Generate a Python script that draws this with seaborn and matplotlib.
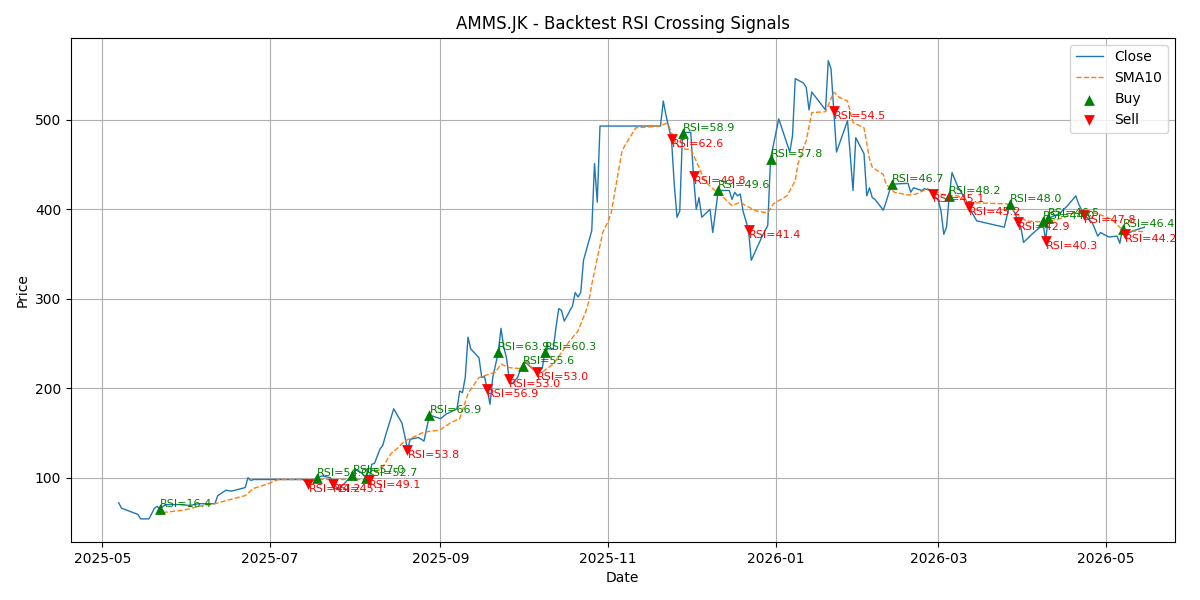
"""
Backtest chart for AMMS.JK: close price, 10-day SMA and the
RSI crossing buy / sell signals with their RSI values.
"""

import pandas as pd
import seaborn as sns
import matplotlib.pyplot as plt

close_dates = [
    "2025-05-07", "2025-05-08", "2025-05-14", "2025-05-15", "2025-05-18",
    "2025-05-20", "2025-05-21", "2025-05-22", "2025-05-24", "2025-05-29",
    "2025-06-02", "2025-06-05", "2025-06-11", "2025-06-12", "2025-06-15",
    "2025-06-17", "2025-06-22", "2025-06-23", "2025-06-24", "2025-06-25",
    "2025-07-13", "2025-07-15", "2025-07-18", "2025-07-20", "2025-07-23",
    "2025-07-24", "2025-07-26", "2025-07-31", "2025-08-01", "2025-08-03",
    "2025-08-05", "2025-08-06", "2025-08-07", "2025-08-08", "2025-08-10",
    "2025-08-11", "2025-08-12", "2025-08-15", "2025-08-18", "2025-08-19",
    "2025-08-20", "2025-08-21", "2025-08-24", "2025-08-26", "2025-08-28",
    "2025-09-01", "2025-09-03", "2025-09-07", "2025-09-08", "2025-09-09",
    "2025-09-10", "2025-09-11", "2025-09-12", "2025-09-15", "2025-09-16",
    "2025-09-17", "2025-09-18", "2025-09-19", "2025-09-20", "2025-09-22",
    "2025-09-23", "2025-09-24", "2025-09-25", "2025-09-26", "2025-09-27",
    "2025-09-29", "2025-09-30", "2025-10-01", "2025-10-02", "2025-10-04",
    "2025-10-06", "2025-10-08", "2025-10-09", "2025-10-10", "2025-10-12",
    "2025-10-13", "2025-10-14", "2025-10-15", "2025-10-16", "2025-10-19",
    "2025-10-20", "2025-10-21", "2025-10-22", "2025-10-23", "2025-10-26",
    "2025-10-27", "2025-10-28", "2025-10-29", "2025-11-20", "2025-11-21",
    "2025-11-22", "2025-11-24", "2025-11-25", "2025-11-26", "2025-11-27",
    "2025-11-28", "2025-11-30", "2025-12-01", "2025-12-02", "2025-12-03",
    "2025-12-04", "2025-12-05", "2025-12-08", "2025-12-09", "2025-12-11",
    "2025-12-13", "2025-12-15", "2025-12-16", "2025-12-17", "2025-12-18",
    "2025-12-19", "2025-12-20", "2025-12-22", "2025-12-23", "2025-12-27",
    "2025-12-29", "2025-12-30", "2026-01-02", "2026-01-06", "2026-01-07",
    "2026-01-08", "2026-01-11", "2026-01-12", "2026-01-13", "2026-01-14",
    "2026-01-19", "2026-01-20", "2026-01-21", "2026-01-22", "2026-01-23",
    "2026-01-27", "2026-01-29", "2026-01-30", "2026-02-02", "2026-02-03",
    "2026-02-04", "2026-02-05", "2026-02-06", "2026-02-09", "2026-02-10",
    "2026-02-12", "2026-02-18", "2026-02-19", "2026-02-20", "2026-02-23",
    "2026-02-24", "2026-02-26", "2026-02-27", "2026-03-01", "2026-03-02",
    "2026-03-03", "2026-03-04", "2026-03-05", "2026-03-06", "2026-03-08",
    "2026-03-09", "2026-03-11", "2026-03-12", "2026-03-15", "2026-03-25",
    "2026-03-27", "2026-03-29", "2026-03-30", "2026-03-31", "2026-04-01",
    "2026-04-04", "2026-04-07", "2026-04-08", "2026-04-09", "2026-04-10",
    "2026-04-14", "2026-04-17", "2026-04-20", "2026-04-21", "2026-04-23",
    "2026-04-26", "2026-04-28", "2026-04-29", "2026-05-02", "2026-05-05",
    "2026-05-06", "2026-05-07", "2026-05-08", "2026-05-11", "2026-05-15",
]
close_values = [
    72, 66, 59, 54, 54, 66, 68, 65, 70, 70,
    69, 71, 71, 80, 86, 85, 89, 100, 97, 98,
    98, 93, 100, 102, 100, 93, 87, 103, 109, 106,
    100, 97, 115, 116, 132, 136, 147, 177, 161, 147,
    131, 143, 145, 141, 170, 166, 171, 177, 197, 195,
    212, 257, 244, 234, 212, 213, 199, 182, 212, 240,
    267, 246, 234, 210, 205, 212, 220, 225, 229, 223,
    218, 222, 241, 244, 244, 268, 289, 287, 275, 292,
    307, 302, 307, 343, 376, 451, 408, 493, 493, 521,
    505, 478, 428, 391, 398, 485, 486, 486, 437, 400,
    413, 391, 400, 374, 421, 421, 421, 411, 419, 415,
    417, 398, 377, 343, 370, 382, 456, 501, 464, 482,
    546, 541, 536, 511, 531, 511, 566, 557, 510, 464,
    499, 421, 480, 462, 415, 424, 413, 411, 399, 408,
    428, 429, 419, 424, 421, 423, 421, 417, 410, 398,
    372, 380, 415, 441, 426, 421, 410, 403, 387, 380,
    406, 395, 386, 380, 363, 372, 380, 387, 365, 390,
    395, 404, 415, 406, 394, 385, 370, 374, 369, 370,
    362, 378, 372, 376, 380,
]

sma_dates = [
    "2025-05-23", "2025-05-31", "2025-06-05", "2025-06-11", "2025-06-17",
    "2025-06-22", "2025-06-25", "2025-07-01", "2025-07-04", "2025-07-13",
    "2025-08-04", "2025-08-07", "2025-08-11", "2025-08-14", "2025-08-16",
    "2025-08-19", "2025-08-26", "2025-08-31", "2025-09-01", "2025-09-05",
    "2025-09-08", "2025-09-11", "2025-09-15", "2025-09-21", "2025-09-23",
    "2025-09-26", "2025-09-30", "2025-10-02", "2025-10-05", "2025-10-08",
    "2025-10-12", "2025-10-18", "2025-10-21", "2025-10-24", "2025-10-25",
    "2025-10-26", "2025-10-30", "2025-11-01", "2025-11-02", "2025-11-06",
    "2025-11-07", "2025-11-11", "2025-11-20", "2025-11-22", "2025-11-23",
    "2025-11-26", "2025-11-29", "2025-12-01", "2025-12-04", "2025-12-06",
    "2025-12-09", "2025-12-13", "2025-12-16", "2025-12-19", "2025-12-21",
    "2025-12-25", "2025-12-29", "2025-12-31", "2026-01-05", "2026-01-08",
    "2026-01-09", "2026-01-12", "2026-01-14", "2026-01-19", "2026-01-22",
    "2026-01-24", "2026-01-27", "2026-01-29", "2026-02-02", "2026-02-04",
    "2026-02-05", "2026-02-09", "2026-02-10", "2026-02-13", "2026-02-18",
    "2026-02-21", "2026-02-25", "2026-02-28", "2026-03-04", "2026-03-08",
    "2026-03-12", "2026-03-16", "2026-03-26", "2026-03-30", "2026-04-02",
    "2026-04-06", "2026-04-11", "2026-04-16", "2026-04-19", "2026-04-23",
    "2026-04-28", "2026-05-03", "2026-05-06", "2026-05-08", "2026-05-15",
]
sma_values = [
    61, 64, 68, 71, 76, 80, 88, 94, 98, 98,
    98, 102, 112, 127, 132, 141, 151, 153, 154, 162,
    166, 194, 212, 218, 227, 223, 222, 231, 220, 218,
    227, 253, 264, 287, 298, 316, 374, 387, 395, 465,
    471, 491, 493, 496, 493, 471, 467, 467, 447, 432,
    423, 413, 404, 408, 404, 398, 396, 406, 415, 432,
    451, 477, 508, 509, 531, 525, 521, 497, 491, 456,
    447, 439, 428, 419, 416, 417, 423, 419, 415, 415,
    408, 407, 406, 393, 387, 386, 387, 391, 396, 398,
    395, 389, 380, 376, 375,
]

buy_dates = [
    "2025-05-22", "2025-07-18", "2025-07-31", "2025-08-05", "2025-08-28",
    "2025-09-22", "2025-10-01", "2025-10-09", "2025-11-28", "2025-12-11",
    "2025-12-30", "2026-02-12", "2026-03-05", "2026-03-27", "2026-04-08",
    "2026-04-10", "2026-05-07",
]
buy_prices = [65, 100, 103, 100, 170, 240, 225, 241, 485, 421,
              456, 428, 415, 406, 387, 390, 378]
buy_rsi = [16.4, 54.0, 57.0, 52.7, 66.9, 63.9, 55.6, 60.3, 58.9, 49.6,
           57.8, 46.7, 48.2, 48.0, 44.0, 46.5, 46.4]

sell_dates = [
    "2025-07-15", "2025-07-24", "2025-08-06", "2025-08-20", "2025-09-18",
    "2025-09-26", "2025-10-06", "2025-11-24", "2025-12-02", "2025-12-22",
    "2026-01-22", "2026-02-27", "2026-03-12", "2026-03-30", "2026-04-09",
    "2026-04-23", "2026-05-08",
]
sell_prices = [93, 93, 97, 131, 199, 210, 218, 478, 437, 377,
               510, 417, 403, 386, 365, 394, 372]
sell_rsi = [44.2, 45.1, 49.1, 53.8, 56.9, 53.0, 53.0, 62.6, 49.8, 41.4,
            54.5, 45.1, 45.2, 42.9, 40.3, 47.8, 44.2]


def main():
    close = pd.DataFrame({"Date": pd.to_datetime(close_dates),
                          "Close": close_values})
    sma = pd.DataFrame({"Date": pd.to_datetime(sma_dates),
                        "SMA10": sma_values})
    buys = pd.DataFrame({"Date": pd.to_datetime(buy_dates),
                         "Price": buy_prices, "RSI": buy_rsi})
    sells = pd.DataFrame({"Date": pd.to_datetime(sell_dates),
                          "Price": sell_prices, "RSI": sell_rsi})

    fig, ax = plt.subplots(figsize=(12, 6), dpi=100)

    sns.lineplot(x="Date", y="Close", data=close, ax=ax, label="Close",
                 color="tab:blue", linewidth=1)
    sns.lineplot(x="Date", y="SMA10", data=sma, ax=ax, label="SMA10",
                 color="tab:orange", linewidth=1)
    ax.lines[1].set_linestyle("--")

    sns.scatterplot(x="Date", y="Price", data=buys, ax=ax, label="Buy",
                    marker="^", color="green", s=60, linewidth=0, zorder=3)
    sns.scatterplot(x="Date", y="Price", data=sells, ax=ax, label="Sell",
                    marker="v", color="red", s=60, linewidth=0, zorder=3)

    # RSI value next to each signal: buys above, sells below
    for _, row in buys.iterrows():
        ax.text(row["Date"], row["Price"], f"RSI={row['RSI']:.1f}",
                color="green", fontsize=8, ha="left", va="bottom")
    for _, row in sells.iterrows():
        ax.text(row["Date"], row["Price"], f"RSI={row['RSI']:.1f}",
                color="red", fontsize=8, ha="left", va="top")

    ax.set_title("AMMS.JK - Backtest RSI Crossing Signals")
    ax.set_xlabel("Date")
    ax.set_ylabel("Price")
    ax.set_xlim(pd.Timestamp("2025-04-19 14:00"), pd.Timestamp("2026-05-26"))
    ax.grid(True)
    ax.legend(loc="upper right")

    fig.subplots_adjust(left=0.059, right=0.979, top=0.937, bottom=0.097)
    plt.savefig("out.png")


if __name__ == "__main__":
    main()
